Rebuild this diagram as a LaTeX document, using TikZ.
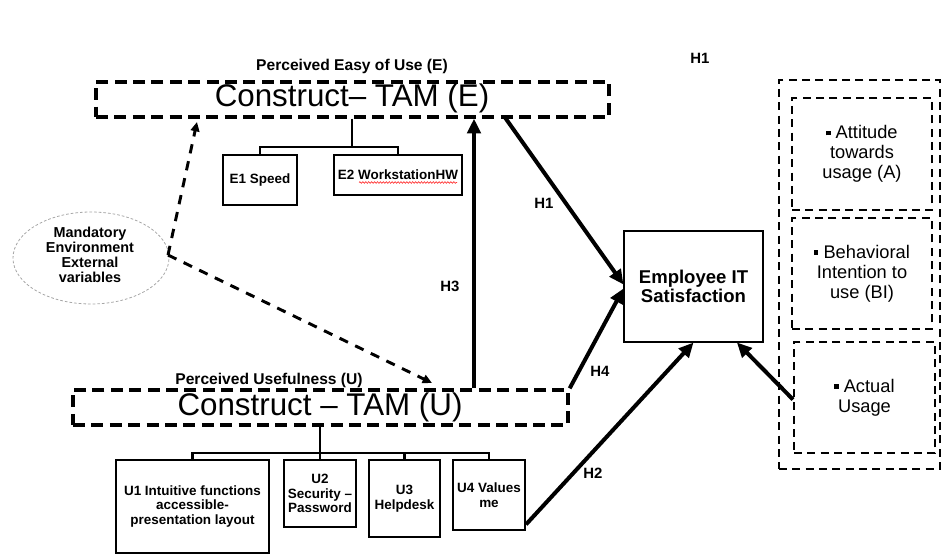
\documentclass[tikz,border=0pt]{standalone}
\usepackage{fontspec}
\setmainfont{Liberation Sans}
\usetikzlibrary{arrows.meta,shapes.geometric,calc,decorations.pathmorphing}
\begin{document}
\begin{tikzpicture}[x=0.75pt,y=-0.75pt,
  bigdash/.style={draw,line width=2.5pt,dash pattern=on 9pt off 4.8pt,inner sep=0pt},
  solidbox/.style={draw,line width=1.6pt,inner sep=0pt,align=center,
    font=\fontsize{10.1}{11}\selectfont\bfseries},
  smalldash/.style={draw,line width=1.5pt,dash pattern=on 6pt off 4pt,inner sep=0pt,
    align=center,font=\fontsize{13.7}{15}\selectfont},
  arr/.style={line width=3pt,-{Triangle[length=11pt,width=10pt]}},
  darr/.style={line width=2.2pt,dash pattern=on 7pt off 6pt,-{Triangle[length=7pt,width=6.5pt]}},
  tree/.style={line width=1.6pt},
  hlab/.style={font=\fontsize{11.2}{12}\selectfont\bfseries,inner sep=0pt},
  plab/.style={font=\fontsize{11.7}{13}\selectfont\bfseries,inner sep=0pt},
  big/.style={font=\fontsize{23.5}{28}\selectfont}
]
\useasboundingbox (0,0) rectangle (943,556);
\newcommand{\sqb}{\raisebox{2.6pt}{\rule{3.2pt}{3.2pt}} }

% top construct
\node[plab] (pe) at (352,66) {Perceived Easy of Use (E)};
\node[bigdash,minimum width=384.75pt,minimum height=26.25pt] (E) at (352.5,99.5) {};
\node[big] (Et) at (352,98) {Construct– TAM (E)};
\node[solidbox,minimum width=55.5pt,minimum height=37.5pt] (e1) at (260,180) {E1 Speed};
\node[solidbox,minimum width=96pt,minimum height=30pt] (e2) at (398,175) {E2 WorkstationHW};
\draw[red!80,line width=0.5pt,decorate,decoration={snake,amplitude=0.6pt,segment length=2.2pt}] (359,182.5) -- (457,182.5);
\coordinate (et) at (352,147);
\draw[tree] (E.south -| et) -- (et);
\draw[tree] (e1.north) |- (et) -| (e2.north);

% bottom construct
\node[plab] (pu) at (269,380) {Perceived Usefulness (U)};
\node[bigdash,minimum width=371.25pt,minimum height=26.25pt] (U) at (320.5,407.5) {};
\node[big] (Ut) at (320,407) {Construct – TAM (U)};
\node[solidbox,minimum width=114.75pt,minimum height=69.75pt] (u1) at (192.5,506.5) {U1 Intuitive functions\\accessible-\\presentation layout};
\node[solidbox,minimum width=54pt,minimum height=50.25pt] (u2) at (320,493.5) {U2\\Security –\\Password};
\node[solidbox,minimum width=53.25pt,minimum height=57.75pt] (u3) at (404.5,498.5) {U3\\Helpdesk};
\node[solidbox,minimum width=54pt,minimum height=52.5pt] (u4) at (489,495) {U4 Values\\me};
\coordinate (ut) at (320,453);
\draw[line width=2.2pt] (U.south -| ut) -- (u2.north);
\draw[tree] (u1.north) |- (ut) -| (u4.north);
\draw[tree] (ut) -| (u3.north);

% ellipse
\node[ellipse,draw=gray!70,line width=0.6pt,dash pattern=on 2pt off 1.5pt,
  minimum width=117pt,minimum height=69pt,inner sep=0pt] (ell) at (91,258) {};
\node[align=center,font=\fontsize{10.8}{11.3}\selectfont\bfseries,inner sep=0pt] (ellt) at (90,255)
  {Mandatory\\Environment\\External\\variables};
\coordinate (ea) at (197,122);
\coordinate (ua) at (432,383);
\coordinate (es) at (168,255);
\draw[darr] (es) -- (ea);
\draw[darr] (es) -- (ua);

% employee
\node[draw,line width=0.8pt,minimum width=104.25pt,minimum height=83.25pt,inner sep=0pt,
  align=center,font=\fontsize{13.9}{14.3}\selectfont\bfseries] (emp) at (693.5,286.5)
  {Employee IT\\Satisfaction};

% right group
\node[smalldash,minimum width=120.75pt,minimum height=291.75pt] (grp) at (859.5,274.5) {};
\node[smalldash,minimum width=105pt,minimum height=84pt] (att) at (862,154) {\sqb Attitude\\towards\\usage (A)};
\node[smalldash,minimum width=105pt,minimum height=83.25pt] (bi) at (862,273.5) {\sqb Behavioral\\Intention to\\use (BI)};
\node[smalldash,minimum width=105.75pt,minimum height=83.25pt] (au) at (864.5,397.5) {\sqb Actual\\Usage};

% hypothesis arrows
\coordinate (h1s) at (505,117.5);
\coordinate (h3x) at (474,0);
\draw[arr] (h1s) -- ([yshift=1.5pt]emp.west);
\draw[arr] (U.north -| h3x) -- (E.south -| h3x);
\draw[arr] (U.north east) -- ([yshift=-1.5pt]emp.west);
\draw[arr] ([yshift=5pt]u4.south east) -- (emp.south);
\draw[arr] ([yshift=-1.5pt]au.west) -- ($(emp.south)!0.62!(emp.south east)$);

% labels
\node[hlab] (lh1a) at (700,58) {H1};
\node[hlab] (lh1) at (544,203) {H1};
\node[hlab] (lh3) at (450,286) {H3};
\node[hlab] (lh4) at (600,371) {H4};
\node[hlab] (lh2) at (593,473) {H2};
\end{tikzpicture}
\end{document}
